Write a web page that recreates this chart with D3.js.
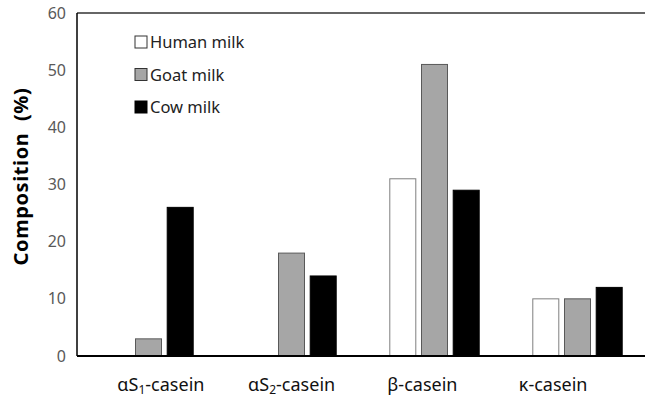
<!DOCTYPE html>
<html><head><meta charset="utf-8">
<script src="https://cdn.jsdelivr.net/npm/d3@7"></script>
<style>body{margin:0;background:#fff}svg{display:block}text{font-family:"Noto Sans","Open Sans",sans-serif}</style>
</head><body><svg id="c" width="645" height="403"></svg>
<script>
const categories = [
  {main: "αS", sub: "1", rest: "-casein"},
  {main: "αS", sub: "2", rest: "-casein"},
  {main: "β", sub: "", rest: "-casein"},
  {main: "κ", sub: "", rest: "-casein"}
];
const categoryKeys = ["aS1", "aS2", "beta", "kappa"];
const seriesNames = ["Human milk", "Goat milk", "Cow milk"];
const humanMilk = [0, 0, 31, 10];
const goatMilk = [3, 18, 51, 10];
const cowMilk = [26, 14, 29, 12];
const yTicks = [0, 10, 20, 30, 40, 50, 60];
const fills = ["#ffffff", "#a6a6a6", "#000000"];
const strokes = ["#7f7f7f", "#595959", "#000000"];
const values = [humanMilk, goatMilk, cowMilk];

const svg = d3.select("#c");
const mLeft = 77, mRight = 645, mTop = 13, mBottom = 356;

const y = d3.scaleLinear().domain([0, 60]).range([mBottom, mTop]);
const x0 = d3.scaleBand().domain(categoryKeys).range([mLeft, 649]).padding(0);
const x1 = d3.scaleBand().domain(seriesNames).range([26.8, 116.2]).paddingInner(0.18).paddingOuter(0);
const xLabel = d3.scaleBand().domain(categoryKeys).range([95.5, 618.5]).padding(0);

// bars
categoryKeys.forEach((k, ci) => {
  seriesNames.forEach((s, si) => {
    const v = values[si][ci];
    if (v <= 0) return;
    svg.append("rect")
      .attr("x", x0(k) + x1(s))
      .attr("y", y(v))
      .attr("width", x1.bandwidth())
      .attr("height", y(0) - y(v))
      .attr("fill", fills[si])
      .attr("stroke", strokes[si])
      .attr("stroke-width", 1);
  });
});

// frame lines
svg.append("line").attr("x1", mLeft).attr("x2", mRight).attr("y1", mTop).attr("y2", mTop)
  .attr("stroke", "#333").attr("stroke-width", 1.5);
svg.append("line").attr("x1", mLeft).attr("x2", mLeft).attr("y1", mTop).attr("y2", mBottom)
  .attr("stroke", "#000").attr("stroke-width", 1.5);

// y axis tick labels
const yAxis = d3.axisLeft(y).tickValues(yTicks).tickSize(0).tickPadding(11);
const gy = svg.append("g").attr("transform", `translate(${mLeft},0)`).call(yAxis);
gy.select(".domain").remove();
gy.selectAll("text").attr("font-size", 16).attr("fill", "#595959")
  .style("font-family", '"Noto Sans", sans-serif');

// bottom axis line
svg.append("line").attr("x1", mLeft).attr("x2", mRight).attr("y1", mBottom).attr("y2", mBottom)
  .attr("stroke", "#000").attr("stroke-width", 2);

// x labels
categoryKeys.forEach((k, i) => {
  const c = categories[i];
  const t = svg.append("text")
    .attr("x", xLabel(k) + xLabel.bandwidth() / 2)
    .attr("y", 391)
    .attr("text-anchor", "middle")
    .attr("font-size", 18)
    .attr("fill", "#111");
  t.append("tspan").text(c.main);
  if (c.sub) t.append("tspan").attr("font-size", 12).attr("dy", 3).text(c.sub);
  t.append("tspan").attr("dy", c.sub ? -3 : 0).text(c.rest);
});

// y title
svg.append("text")
  .attr("transform", `translate(28,${(mTop + mBottom) / 2 - 8}) rotate(-90)`)
  .attr("text-anchor", "middle")
  .attr("font-size", 20)
  .attr("font-weight", "bold")
  .attr("letter-spacing", 0.6)
  .attr("fill", "#000")
  .attr("xml:space", "preserve")
  .text("Composition  (%)");

// legend
const legend = svg.append("g");
seriesNames.forEach((s, i) => {
  const cy = 42 + i * 32.5;
  legend.append("rect").attr("x", 135).attr("y", cy - 6).attr("width", 12).attr("height", 12)
    .attr("fill", fills[i]).attr("stroke", i === 2 ? "#000" : "#333").attr("stroke-width", 1);
  legend.append("text").attr("x", 150).attr("y", cy + 6).attr("font-size", 16.5)
    .attr("fill", "#222").text(s);
});
</script></body></html>
